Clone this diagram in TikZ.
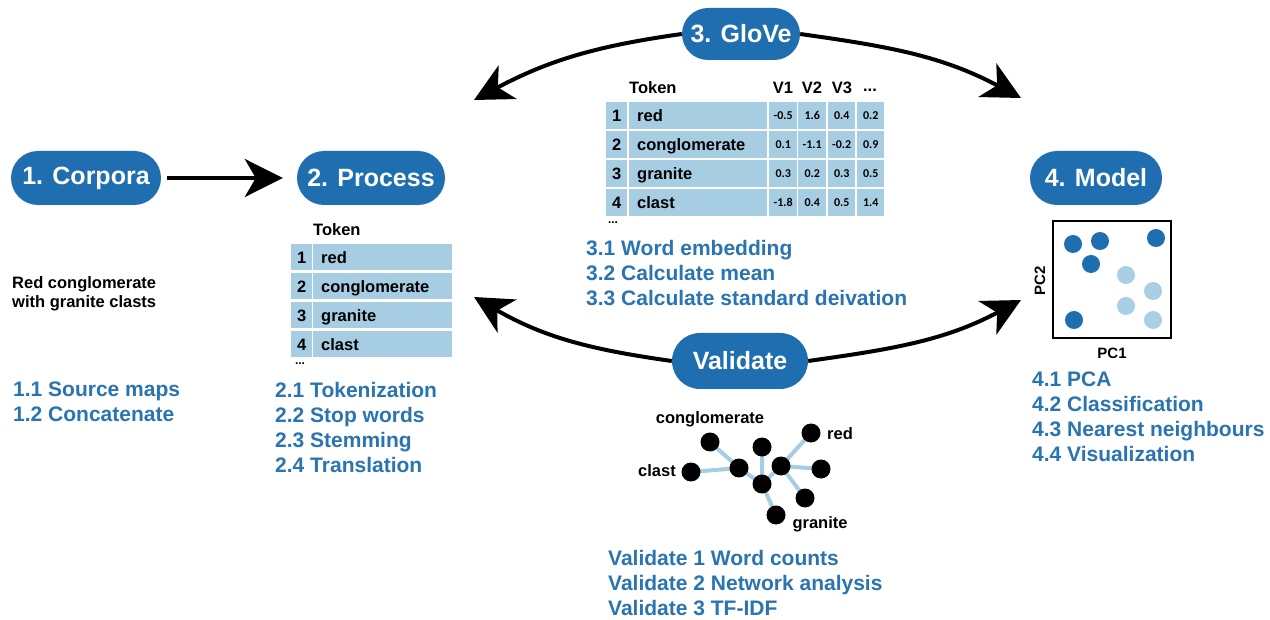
\documentclass[tikz,border=0pt]{standalone}
\usepackage{fontspec}
\setmainfont{Liberation Sans}
\newfontfamily\valfont{Carlito}
\usetikzlibrary{shapes.misc,arrows.meta,backgrounds}
\definecolor{pillblue}{HTML}{1F6FB0}
\definecolor{cellblue}{HTML}{A7CDE3}
\definecolor{stepblue}{HTML}{2A74B1}
\definecolor{lightdot}{HTML}{A9CFE5}
\tikzstyle{pill} = [
    rounded rectangle,
    fill=pillblue,
    text=white,
    font=\bfseries\fontsize{25}{30}\selectfont,
    minimum height=54pt,
    inner sep=0pt
    ]
\tikzstyle{steplist} = [
    anchor=north west,
    inner sep=0pt,
    align=left,
    text=stepblue,
    font=\bfseries\fontsize{21}{25}\selectfont
    ]
\tikzstyle{cell} = [
    fill=cellblue,
    anchor=north west,
    inner sep=0pt,
    minimum height=26pt,
    text height=12pt,
    text depth=0pt,
    font=\bfseries\fontsize{16.5}{18}\selectfont
    ]
\tikzstyle{tokcell} = [cell, text width=130pt, inner xsep=8pt, align=left]
\tikzstyle{valcell} = [cell, minimum width=28pt, text height=8pt,
    font=\valfont\bfseries\fontsize{12}{14}\selectfont]
\tikzstyle{plain} = [inner sep=0pt, font=\bfseries\fontsize{16.5}{19.5}\selectfont]
\tikzstyle{flow} = [line width=4pt, -{Stealth[length=38pt,width=38pt,inset=11pt]}]
\tikzstyle{dot} = [circle, fill=black, minimum size=19pt, inner sep=0pt]
\tikzstyle{link} = [draw=cellblue, line width=4pt]
\tikzstyle{pcdot} = [circle, minimum size=18pt, inner sep=0pt]

\begin{document}
\begin{tikzpicture}[x=1pt,y=-1pt]
\begin{scope}[on background layer]
\fill[white] (0,0) rectangle (1270,620);
\end{scope}
\useasboundingbox (0,0) rectangle (1270,620);

% the five stages
\node[pill, minimum width=150pt] (corpora) at (86,178) {1. Corpora};
\node[pill, minimum width=148pt] (process) at (371,178) {2. Process};
\node[pill, minimum width=118pt, minimum height=52pt] (glove) at (741,34) {3. GloVe};
\node[pill, minimum width=136pt, minimum height=56pt] (validate) at (740,361) {Validate};
\node[pill, minimum width=132pt] (model) at (1096,178) {4. Model};

% arrows
\coordinate (tlTip) at (474,100);
\coordinate (trTip) at (1021,98);
\coordinate (blTip) at (474,297);
\coordinate (brTip) at (1021,300);
\draw[flow, shorten <=6pt, shorten >=14pt] (corpora.east) -- (process.west);
\draw[flow] (glove.west) to[out=188,in=28] (tlTip);
\draw[flow] (glove.east) to[out=-8,in=152] (trTip);
\draw[flow] (validate.west) to[out=172,in=-30] (blTip);
\draw[flow] (validate.east) to[out=8,in=208] (brTip);

% 1. corpora
\node[plain, anchor=west, align=left] (sample) at (12,294) {Red conglomerate\\with granite clasts};
\node[steplist] (corporaSteps) at (13,382) {1.1 Source maps\\1.2 Concatenate};

% 2. process: token table
\node[plain, anchor=west] (ptokhead) at (313,230) {Token};
\foreach \k/\w in {1/red,2/conglomerate,3/granite,4/clast}{
    \node[cell, minimum width=21pt] (pnum\k) at (291,{244+29*(\k-1)}) {\k};
    \node[tokcell, text width=123pt] (ptok\k) at (313,{244+29*(\k-1)}) {\w};
}
\node[inner sep=0pt, font=\bfseries\fontsize{12}{12}\selectfont] (pmore) at (300,364) {...};
\node[steplist] (processSteps) at (275,382) {2.1 Tokenization\\2.2 Stop words\\2.3 Stemming\\2.4 Translation};

% 3. glove: embedding table
\node[plain, anchor=west] (gtokhead) at (629,88) {Token};
\node[plain] (ghead1) at (783,88) {V1};
\node[plain] (ghead2) at (812,88) {V2};
\node[plain] (ghead3) at (842,88) {V3};
\node[plain] (ghead4) at (870,90) {...};
\foreach \k/\w/\a/\b/\c/\d in {1/red/-0.5/1.6/0.4/0.2,
        2/conglomerate/0.1/-1.1/-0.2/0.9,
        3/granite/0.3/0.2/0.3/0.5,
        4/clast/-1.8/0.4/0.5/1.4}{
    \node[cell, minimum width=21pt, minimum height=27pt] (gnum\k) at (606,{102+29*(\k-1)}) {\k};
    \node[tokcell, text width=122pt, minimum height=27pt] (gtok\k) at (629,{102+29*(\k-1)}) {\w};
    \node[valcell, minimum height=27pt] (ga\k) at (769,{102+29*(\k-1)}) {\a};
    \node[valcell, minimum height=27pt] (gb\k) at (798,{102+29*(\k-1)}) {\b};
    \node[valcell, minimum height=27pt, minimum width=27pt] (gc\k) at (828,{102+29*(\k-1)}) {\c};
    \node[valcell, minimum height=27pt, minimum width=27pt] (gd\k) at (857,{102+29*(\k-1)}) {\d};
}
\node[inner sep=0pt, font=\bfseries\fontsize{12}{12}\selectfont] (gmore) at (613,223) {...};
\node[steplist] (gloveSteps) at (586,240) {3.1 Word embedding\\3.2 Calculate mean\\3.3 Calculate standard deivation};

% validate: small word network
\node[dot] (wconglo) at (710,442) {};
\node[dot] (wtop) at (762,447) {};
\node[dot] (wred) at (811,433) {};
\node[dot] (wclast) at (691,472) {};
\node[dot] (whubA) at (739,468) {};
\node[dot] (whubB) at (781,466) {};
\node[dot] (wright) at (821,469) {};
\node[dot] (wmid) at (762,484) {};
\node[dot] (wlow) at (805,498) {};
\node[dot] (wgranite) at (776,515) {};
\begin{scope}[on background layer]
\draw[link] (wclast.center) -- (whubA.center) (wconglo.center) -- (whubA.center)
    (whubA.center) -- (wmid.center) (wtop.center) -- (wmid.center)
    (wmid.center) -- (whubB.center) (whubB.center) -- (wred.center)
    (whubB.center) -- (wright.center) (whubB.center) -- (wlow.center)
    (wmid.center) -- (wgranite.center);
\end{scope}
\node[plain] (lconglo) at (710,419) {conglomerate};
\node[plain] (lred) at (840,434) {red};
\node[plain] (lclast) at (657,471) {clast};
\node[plain] (lgranite) at (820,524) {granite};
\node[steplist] (validateSteps) at (608,550) {Validate 1 Word counts\\Validate 2 Network analysis\\Validate 3 TF-IDF};

% 4. model: PCA plot
\node[draw, line width=2pt, minimum width=118pt, minimum height=117pt, inner sep=0pt] (plot) at (1112,280) {};
\foreach \x/\y in {1073/244,1100/241,1156/238,1091/264,1074/320}
    \node[pcdot, fill=pillblue] at (\x,\y) {};
\foreach \x/\y in {1126/275,1153/291,1126/306,1153/320}
    \node[pcdot, fill=lightdot] at (\x,\y) {};
\node[plain, font=\bfseries\fontsize{15}{18}\selectfont] (pc1) at (1112,353) {PC1};
\node[plain, font=\bfseries\fontsize{15}{18}\selectfont, rotate=90] (pc2) at (1040,281) {PC2};
\node[steplist] (modelSteps) at (1032,372) {4.1 PCA\\4.2 Classification\\4.3 Nearest neighbours\\4.4 Visualization};
\end{tikzpicture}
\end{document}
